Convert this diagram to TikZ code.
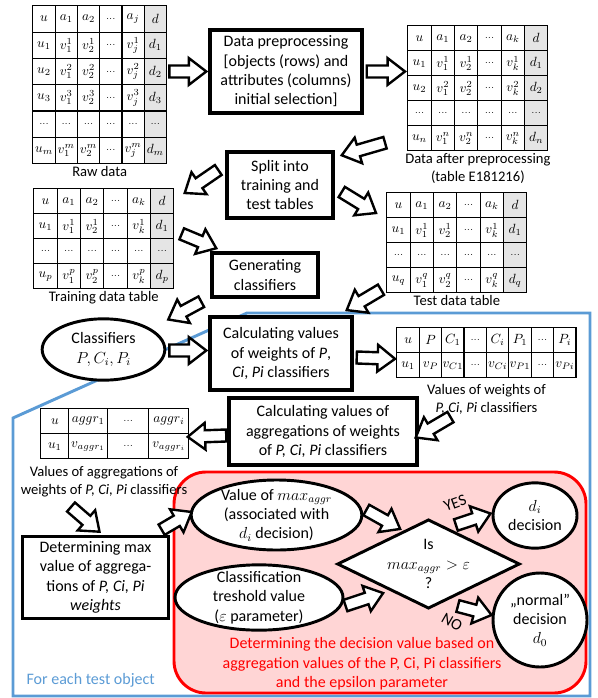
\documentclass[12pt,tikz,border=0pt]{standalone}
\usepackage{amsmath}
\usepackage[no-math]{fontspec}
\setmainfont{Carlito}
\usepackage{tikz}
\usetikzlibrary{calc, positioning, matrix, shapes.geometric}
\usepackage{xcolor}
\definecolor{frameblue}{RGB}{91, 155, 213}
\definecolor{decred}{RGB}{255, 0, 0}
\definecolor{decfill}{RGB}{255, 213, 213}

\newcommand{\celldots}{\scriptstyle\ldots}
\newcommand{\blockarrow}[2]{%
  \coordinate (ta) at #1;
  \coordinate (tb) at #2;
  \coordinate (th) at ($(tb)!13pt!(ta)$);
  \draw[harrow] ($(ta)!4.5pt!90:(tb)$) -- ($(th)!4.5pt!-90:(ta)$)
    -- ($(th)!10pt!-90:(ta)$) -- (tb) -- ($(th)!10pt!90:(ta)$)
    -- ($(th)!4.5pt!90:(ta)$) -- ($(ta)!4.5pt!-90:(tb)$) -- cycle;}

\tikzset{
  box/.style={draw, line width=2.6pt, fill=white, align=center, inner sep=2pt},
  oval/.style={draw, ellipse, line width=2.2pt, fill=white, align=center, inner sep=-3pt},
  cell/.style={draw, line width=0.9pt, minimum width=17.5pt, minimum height=18.75pt, inner sep=0pt,
    anchor=center, font=\footnotesize},
  tbl/.style={matrix of math nodes, inner sep=0pt, column sep=-0.9pt, row sep=-0.9pt, nodes={cell}},
  lbl/.style={font=\small, align=center, inner sep=1pt},
  harrow/.style={draw, line width=1.8pt, fill=white, line join=miter},
}

\begin{document}
\begin{tikzpicture}[x=0.75pt, y=-0.75pt, font=\normalsize]
  \useasboundingbox (0,0) rectangle (598,698);

  % Test object frame and decision area
  \draw[frameblue, line width=2.2pt] (13,418) -- (247,313) -- (590,313) -- (590,696) -- (13,696) -- cycle;
  \draw[decred, line width=2.2pt, fill=decfill, rounded corners=24pt] (174,472) rectangle (586,693);

  % Tables
  \matrix (raw) [tbl, anchor=north west, nodes={minimum width=16.7pt, minimum height=19.7pt},
    column 6/.style={nodes={fill=gray!20}}] at (32,5) {
    u & a_1 & a_2 & \celldots & a_j & d \\
    u_1 & v_1^1 & v_2^1 & \celldots & v_j^1 & d_1 \\
    u_2 & v_1^2 & v_2^2 & \celldots & v_j^2 & d_2 \\
    u_3 & v_1^3 & v_2^3 & \celldots & v_j^3 & d_3 \\
    \celldots & \celldots & \celldots & \celldots & \celldots & \celldots \\
    u_m & v_1^m & v_2^m & \celldots & v_j^m & d_m \\
  };
  \node[lbl, below=0pt of raw] (rawlbl) {Raw data};

  \matrix (prepd) [tbl, anchor=north west, column 6/.style={nodes={fill=gray!20}}] at (407,25) {
    u & a_1 & a_2 & \celldots & a_k & d \\
    u_1 & v_1^1 & v_2^1 & \celldots & v_k^1 & d_1 \\
    u_2 & v_1^2 & v_2^2 & \celldots & v_k^2 & d_2 \\
    \celldots & \celldots & \celldots & \celldots & \celldots & \celldots \\
    u_n & v_1^n & v_2^n & \celldots & v_k^n & d_n \\
  };
  \node[lbl, below=0pt of prepd] (prepdlbl) {Data after preprocessing\\(table E181216)};

  \matrix (train) [tbl, anchor=north west, column 6/.style={nodes={fill=gray!20}}] at (33,188) {
    u & a_1 & a_2 & \celldots & a_k & d \\
    u_1 & v_1^1 & v_2^1 & \celldots & v_k^1 & d_1 \\
    \celldots & \celldots & \celldots & \celldots & \celldots & \celldots \\
    u_p & v_1^p & v_2^p & \celldots & v_k^p & d_p \\
  };
  \node[lbl, below=0pt of train] (trainlbl) {Training data table};

  \matrix (test) [tbl, anchor=north west, column 6/.style={nodes={fill=gray!20}}] at (386,192) {
    u & a_1 & a_2 & \celldots & a_k & d \\
    u_1 & v_1^1 & v_2^1 & \celldots & v_k^1 & d_1 \\
    \celldots & \celldots & \celldots & \celldots & \celldots & \celldots \\
    u_q & v_1^q & v_2^q & \celldots & v_k^q & d_q \\
  };
  \node[lbl, below=0pt of test] (testlbl) {Test data table};

  \matrix (wtab) [tbl, anchor=north west, nodes={minimum width=16.8pt}] at (396,327) {
    u & P & C_1 & \celldots & C_i & P_1 & \celldots & P_i \\
    u_1 & v_P & v_{C1} & \celldots & v_{Ci} & v_{P1} & \celldots & v_{Pi} \\
  };
  \node[lbl, below=3pt of wtab] (wlbl) {Values of weights of\\\textit{P, Ci, Pi} classifiers};

  \matrix (atab) [tbl, anchor=north west, column 1/.style={nodes={minimum width=21pt}},
    column 2/.style={nodes={minimum width=29pt}}, column 3/.style={nodes={minimum width=31pt}},
    column 4/.style={nodes={minimum width=30pt}}] at (40,408) {
    u & aggr_1 & \celldots & aggr_i \\
    u_1 & v_{aggr_1} & \celldots & v_{aggr_i} \\
  };
  \node[lbl] (albl) at (104,482) {Values of aggregations of\\weights of \textit{P, Ci, Pi} classifiers};

  % Process steps
  \node[box, minimum width=114pt, minimum height=62pt] (prep) at (286,71.5)
    {Data preprocessing\\{[}objects (rows) and\\attributes (columns)\\initial selection{]}};
  \node[box, minimum width=79.5pt, minimum height=49.5pt] (split) at (280,185) {Split into\\training and\\test tables};
  \node[box, minimum width=79.5pt, minimum height=33pt] (gen) at (265,275) {Generating\\classifiers};
  \node[oval, minimum width=92pt, minimum height=46pt] (cls) at (103.5,349.5) {Classifiers\\$P, C_i, P_i$};
  \node[box, minimum width=106.5pt, minimum height=55pt] (calcw) at (281,353.5)
    {Calculating values\\of weights of \textit{P},\\\textit{Ci}, \textit{Pi} classifiers};
  \node[box, minimum width=141pt, minimum height=50pt] (calca) at (323,431.5)
    {Calculating values of\\aggregations of weights\\of \textit{P, Ci, Pi} classifiers};
  \node[box, line width=2.2pt, minimum width=109pt, minimum height=62pt] (det) at (95.5,577.5)
    {Determining max\\value of aggrega-\\tions of \textit{P, Ci, Pi}\\\textit{weights}};

  % Decision part
  \node[oval, minimum width=128pt, minimum height=52.5pt] (vmax) at (276.5,515)
    {Value of $max_{aggr}$\\(associated with\\$d_i$ decision)};
  \node[oval, minimum width=126pt, minimum height=49pt] (thr) at (259,597.5)
    {Classification\\treshold value\\($\varepsilon$ parameter)};
  \node[draw, diamond, line width=2.2pt, fill=white, minimum width=137pt, minimum height=58.5pt,
    inner sep=-8pt, align=center] (dia) at (428.5,564) {Is\\$max_{aggr} > \varepsilon$\\?};
  \node[oval, minimum width=63pt, minimum height=49pt] (di) at (535,515.5) {$d_i$\\decision};
  \node[oval, minimum width=70.5pt, minimum height=70.5pt] (nrm) at (540,620) {„normal”\\decision\\$d_0$};
  \node[rotate=20] (yes) at (455,503) {YES};
  \node[rotate=-30] (no) at (452,622) {NO};

  \node[text=decred, align=center] (dectxt) at (362,664)
    {Determining the decision value based on\\aggregation values of the P, Ci, Pi classifiers\\and the epsilon parameter};
  \node[text=frameblue, anchor=west] (each) at (21,680) {For each test object};

  % Block arrows
  \blockarrow{($(raw.east |- prep.west)+(2,0)$)}{($(prep.west)+(-2,0)$)}
  \blockarrow{($(prep.east)+(3,0)$)}{($(prepd.west |- prep.east)+(-2,0)$)}
  \blockarrow{($(prepd.south west)+(-22,-9)$)}{($(split.north east)+(7,5)$)}
  \blockarrow{($(split.west)+(-7,-15)$)}{($(train.north east)+(10,5)$)}
  \blockarrow{($(split.east)+(7,7)$)}{($(test.north west)+(-10,21)$)}
  \blockarrow{($(train.east)+(7,-5)$)}{($(gen.north west)+(6,-3)$)}
  \blockarrow{($(gen.south west)+(-9,3)$)}{($(cls.east)+(2,-30)$)}
  \blockarrow{($(test.south west)+(-5,-4)$)}{($(calcw.north east)+(-7,-5)$)}
  \blockarrow{($(cls.east)+(3,1)$)}{($(calcw.west |- cls.east)+(-2,1)$)}
  \blockarrow{($(calcw.east)+(3,4)$)}{($(wtab.west)+(-1,6)$)}
  \blockarrow{($(wlbl.south)+(-36,1)$)}{($(calca.east)+(-3,6)$)}
  \blockarrow{($(calca.west)+(-1,4)$)}{($(atab.east)+(-2,3)$)}
  \blockarrow{($(albl.south)+(-33,8)$)}{($(det.north)+(4,-3)$)}
  \blockarrow{($(det.north east)+(-8,-5)$)}{($(vmax.west)+(2,-3)$)}
  \blockarrow{($(vmax.east)+(3,-5)$)}{($(dia.north west)+(18,-12)$)}
  \blockarrow{($(thr.east)+(1,8)$)}{($(dia.south west)+(1,6)$)}
  \blockarrow{($(dia.north east)+(-19,-16)$)}{($(di.west)+(-1,-2)$)}
  \blockarrow{($(dia.south east)+(-17,19)$)}{($(nrm.west)+(0,-5)$)}
\end{tikzpicture}
\end{document}
